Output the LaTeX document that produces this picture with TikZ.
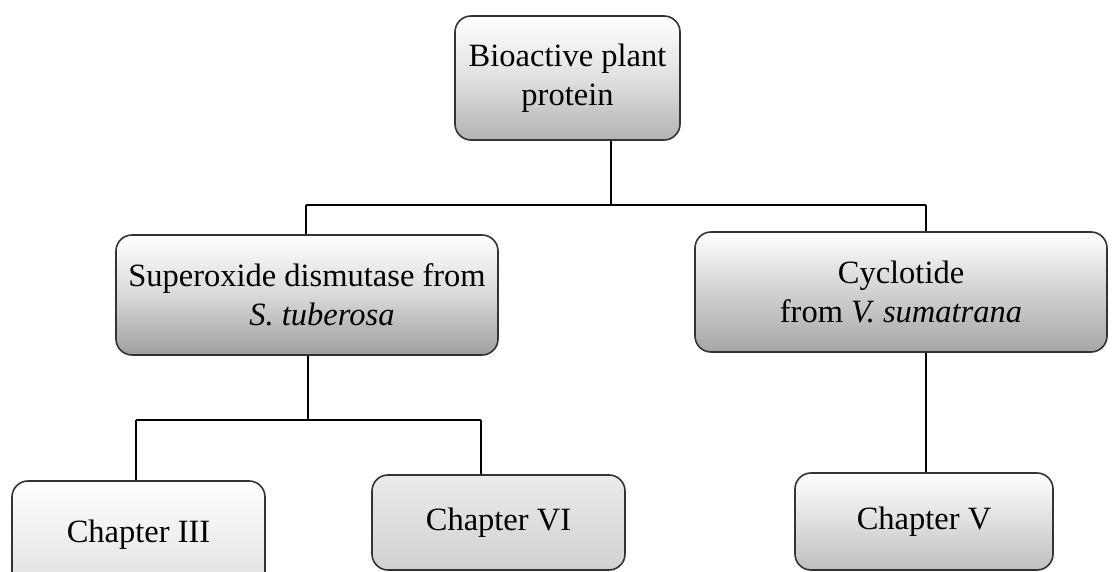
\documentclass[tikz,border=0pt]{standalone}
\usepackage{fontspec}
\setmainfont{Liberation Serif}
\begin{document}
\begin{tikzpicture}[x=1pt,y=-1pt,
  box/.style={draw=black!80, line width=1.6pt, rounded corners=16pt, align=center,
    inner sep=0pt, font=\fontsize{32.5}{39}\selectfont},
  link/.style={draw=black, line width=2.8pt}]
\useasboundingbox (0,0) rectangle (1112,572);
\fill[white] (0,0) rectangle (1112,572);

\node[box, minimum width=225pt, minimum height=124pt, top color=white, bottom color=black!30, middle color=black!12]
  (top) at (567.5,78) {Bioactive plant\\protein};
\node[box, minimum width=382pt, minimum height=120pt, top color=white, bottom color=black!38, middle color=black!15]
  (sod) at (307,295) {Superoxide dismutase from\\\hspace*{30pt}\textit{S. tuberosa}};
\node[box, minimum width=412pt, minimum height=120pt, top color=white, bottom color=black!35, middle color=black!18]
  (cyc) at (901,292) {Cyclotide\\from \textit{V. sumatrana}};
\node[box, minimum width=253pt, minimum height=108pt, top color=white, bottom color=black!12]
  (ch3) at (138.5,535) {Chapter III};
\node[box, minimum width=253pt, minimum height=95pt, top color=black!8, bottom color=black!18]
  (ch6) at (498.5,522.5) {Chapter VI};
\node[box, minimum width=258pt, minimum height=97pt, top color=white, bottom color=black!25]
  (ch5) at (924,521.5) {Chapter V};

\coordinate (j1) at (611,205);
\coordinate (jl) at (306,205);
\coordinate (jr) at (926,205);
\coordinate (j2) at (308,420);
\coordinate (j3) at (136,420);
\coordinate (j4) at (481,420);

\draw[link] (top.south -| j1) -- (j1);
\draw[link] (jl) -- (jr);
\draw[link] (jl) -- (sod.north -| jl);
\draw[link] (jr) -- (cyc.north -| jr);
\draw[link] (sod.south -| j2) -- (j2);
\draw[link] (j3) -- (j4);
\draw[link] (j3) -- (ch3.north -| j3);
\draw[link] (j4) -- (ch6.north -| j4);
\draw[link] (cyc.south -| jr) -- (ch5.north -| jr);
\end{tikzpicture}
\end{document}
